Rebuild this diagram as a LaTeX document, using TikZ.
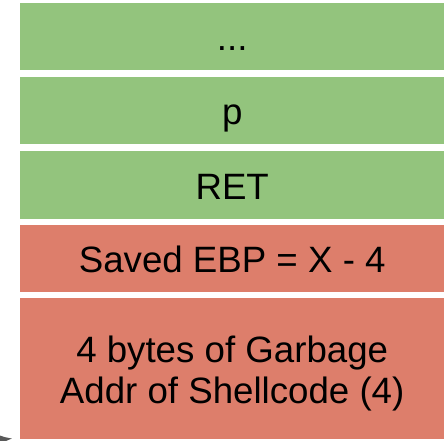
\documentclass[tikz,border=0pt]{standalone}
\usepackage{fontspec}
\setmainfont{Liberation Sans}
\usetikzlibrary{calc,arrows.meta}

\definecolor{slotgreen}{HTML}{93C47D}
\definecolor{slotred}{HTML}{DD7E6B}
\definecolor{tipgrey}{HTML}{595959}

\begin{document}
\begin{tikzpicture}[%
x=1bp, y=1bp,
slot/.style={anchor=north west, inner sep=0pt, minimum width=424bp,
  font=\fontsize{36.8}{41}\selectfont, text height=34.2bp, text depth=5.9bp},
]
\useasboundingbox (0,0) rectangle (444,441);
\clip (0,0) rectangle (444,441);
%% stack slots;
\node [slot, fill=slotgreen, minimum height=67bp] (dots) at (20,438) {...};
\node [slot, fill=slotgreen, minimum height=67bp] (argp) at (20,364) {p};
\node [slot, fill=slotgreen, minimum height=68bp] (ret) at (20,290) {RET};
\node [slot, fill=slotred, minimum height=67bp] (ebp) at (20,216) {Saved EBP = X - 4};
\node [slot, fill=slotred, minimum height=141bp, text height=75.2bp] (buf) at (20,143)
  {\begin{tabular}[b]{@{}c@{}}4 bytes of Garbage\\Addr of Shellcode (4)\end{tabular}};
%% pointer;
\coordinate (src) at (-40,-3);
\draw [tipgrey, line width=3bp, -{Latex[length=15bp,width=11bp]}] (src) -- ($(buf.south west)+(-7,1)$);
\end{tikzpicture}
\end{document}
